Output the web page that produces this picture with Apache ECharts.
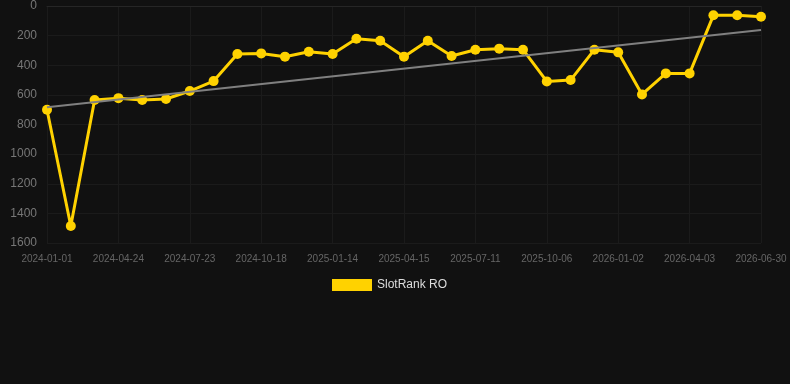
<!DOCTYPE html>
<html>
<head>
<meta charset="utf-8">
<script src="https://cdn.jsdelivr.net/npm/echarts@6/dist/echarts.min.js"></script>
<style>
  html, body { margin: 0; padding: 0; background: #111111; }
  #chart { width: 790px; height: 384px; }
</style>
</head>
<body>
<div id="chart"></div>
<script>
// dates of each ranking snapshot
const dates = [
  '2024-01-01', '2024-02-08', '2024-03-17', '2024-04-24', '2024-05-24', '2024-06-23',
  '2024-07-23', '2024-08-21', '2024-09-19', '2024-10-18', '2024-11-16', '2024-12-15',
  '2025-01-14', '2025-02-13', '2025-03-15', '2025-04-15', '2025-05-14', '2025-06-12',
  '2025-07-11', '2025-08-09', '2025-09-07', '2025-10-06', '2025-11-04', '2025-12-03',
  '2026-01-02', '2026-02-01', '2026-03-03', '2026-04-03', '2026-05-02', '2026-05-31',
  '2026-06-30'
];

// rank values (lower is better, axis is inverted)
const rankRO = [
  700, 1485, 635, 622, 635, 628,
  574, 507, 324, 320, 342, 309,
  324, 221, 234, 342, 234, 338,
  295, 288, 295, 509, 500, 295,
  313, 597, 455, 455, 63, 63,
  72
];

// trend line end points
const trendStart = 684;
const trendEnd = 162;

const yTicks = { min: 0, max: 1600, interval: 200 };

const chart = echarts.init(document.getElementById('chart'));

const option = {
  backgroundColor: '#111111',
  animation: false,
  grid: { left: 47, right: 29, top: 6, bottom: 141 },
  legend: {
    data: ['SlotRank RO'],
    top: 274,
    left: 327,
    itemWidth: 40,
    itemHeight: 12,
    icon: 'rect',
    textStyle: { color: '#dddddd', fontSize: 12, fontFamily: 'Liberation Sans, Arial, sans-serif' }
  },
  xAxis: {
    type: 'category',
    boundaryGap: false,
    data: dates,
    axisLine: { show: true, lineStyle: { color: '#262626' } },
    axisTick: { show: false },
    axisLabel: {
      interval: 2,
      color: '#666666',
      fontSize: 10,
      margin: 11,
      fontFamily: 'Liberation Sans, Arial, sans-serif'
    },
    splitLine: { show: true, interval: 2, lineStyle: { color: '#1b1b1b' } }
  },
  yAxis: {
    type: 'value',
    inverse: true,
    min: yTicks.min,
    max: yTicks.max,
    interval: yTicks.interval,
    axisLine: { show: false },
    axisTick: { show: false },
    axisLabel: {
      color: '#777777',
      fontSize: 12,
      margin: 10,
      fontFamily: 'Liberation Sans, Arial, sans-serif',
      formatter: (v) => String(v)
    },
    splitLine: { lineStyle: { color: '#1b1b1b' } }
  },
  series: [
    {
      name: 'SlotRank RO',
      type: 'line',
      data: rankRO,
      color: '#ffd200',
      symbol: 'circle',
      symbolSize: 10,
      lineStyle: { width: 3, color: '#ffd200' },
      itemStyle: { color: '#ffd200' },
      z: 3
    },
    {
      name: 'trend',
      type: 'line',
      data: [],
      markLine: {
        silent: true,
        symbol: 'none',
        label: { show: false },
        lineStyle: { color: '#808080', width: 2, type: 'solid' },
        data: [[
          { coord: [dates[0], trendStart] },
          { coord: [dates[dates.length - 1], trendEnd] }
        ]]
      },
      z: 2
    }
  ]
};

chart.setOption(option);
</script>
</body>
</html>
